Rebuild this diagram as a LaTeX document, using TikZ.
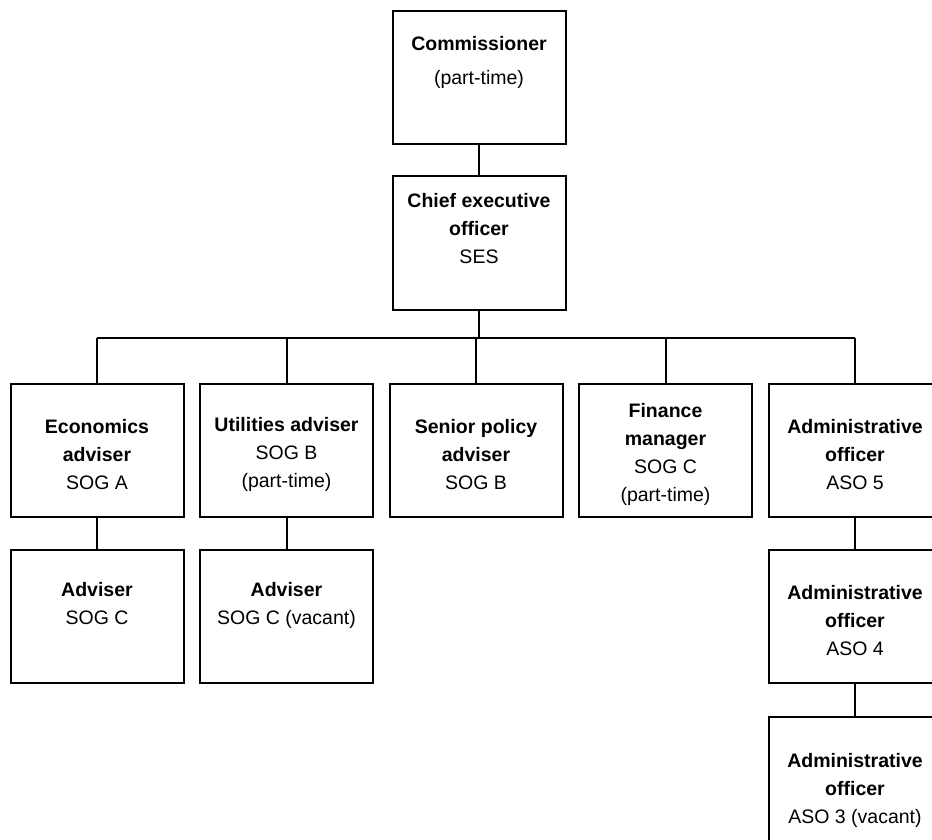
\documentclass[tikz,border=0pt]{standalone}
\usepackage{fontspec}
\setmainfont{Liberation Sans}
\usetikzlibrary{positioning}
\newcommand{\chartgap}{\rule{0pt}{11pt}}

\begin{document}
\begin{tikzpicture}[x=0.5pt, y=-0.5pt, line width=1pt,
    box/.style={draw, minimum width=86.5pt, minimum height=66.5pt,
                inner sep=2pt, align=center,
                font=\fontsize{9.75}{14}\selectfont}]
  \useasboundingbox (0,0) rectangle (932,840);
  \clip (0,0) rectangle (932,840);
  % top of the chart
  \node[box] (com) at (479,78)
    {\chartgap\textbf{Commissioner}\\[3pt](part-time)\\[3pt]\strut};
  \node[box, below=15pt of com] (ceo)
    {\chartgap\textbf{Chief executive}\\\textbf{officer}\\SES\\[0.5pt]\strut};
  \coordinate (bus) at (0,338);
  % first row
  \node[box] (eco) at (97,450.5)
    {\chartgap\textbf{Economics}\\\textbf{adviser}\\SOG A};
  \node[box] (uti) at (286.5,450.5)
    {\chartgap\textbf{Utilities adviser}\\SOG B\\(part-time)};
  \node[box] (pol) at (476,450.5)
    {\chartgap\textbf{Senior policy}\\\textbf{adviser}\\SOG B};
  \node[box] (fin) at (665.5,450.5)
    {\chartgap\textbf{Finance}\\\textbf{manager}\\SOG C\\(part-time)};
  \node[box] (adm5) at (855,450.5)
    {\chartgap\textbf{Administrative}\\\textbf{officer}\\ASO 5};
  % second and third rows
  \node[box, below=15.5pt of eco] (adv1)
    {\chartgap\textbf{Adviser}\\SOG C\\[-1pt]\strut};
  \node[box, below=15.5pt of uti] (adv2)
    {\chartgap\textbf{Adviser}\\SOG C (vacant)\\[-1pt]\strut};
  \node[box, below=15.5pt of adm5] (adm4)
    {\chartgap\textbf{Administrative}\\\textbf{officer}\\ASO 4};
  \node[box, minimum height=70pt, below=16pt of adm4] (adm3)
    {\chartgap\textbf{Administrative}\\\textbf{officer}\\ASO 3 (vacant)};
  % connectors
  \draw (com) -- (ceo);
  \draw (ceo.south) -- (ceo.south |- bus);
  \draw (eco.north |- bus) -- (adm5.north |- bus);
  \foreach \n in {eco, uti, pol, fin, adm5}
    \draw (\n.north) -- (\n.north |- bus);
  \draw (eco) -- (adv1);
  \draw (uti) -- (adv2);
  \draw (adm5) -- (adm4);
  \draw (adm4) -- (adm3);
\end{tikzpicture}
\end{document}
